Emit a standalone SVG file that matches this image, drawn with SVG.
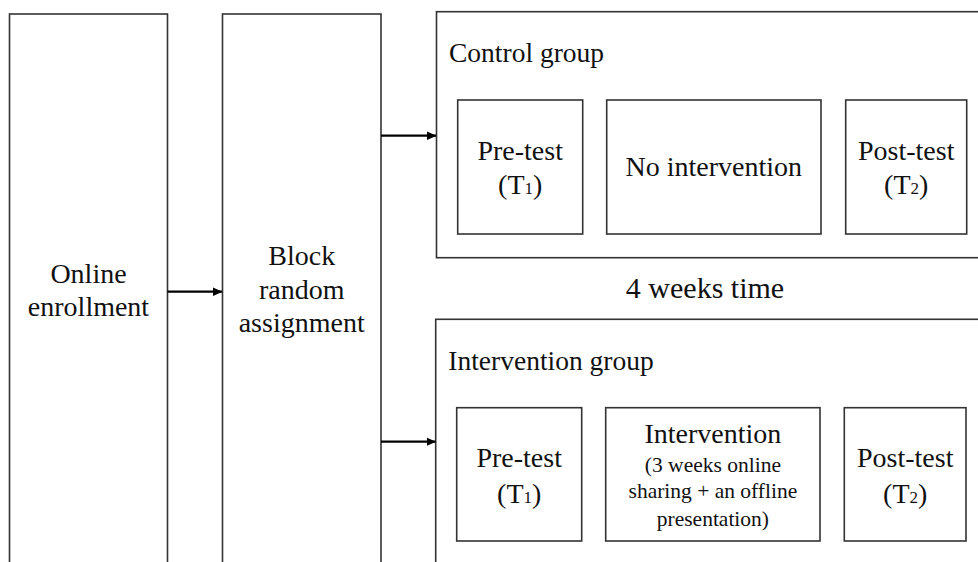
<svg xmlns="http://www.w3.org/2000/svg" width="978" height="562" viewBox="0 0 978 562">
<style>
.box{fill:#fff;stroke:#333;stroke-width:1.6}
.t{font-family:"Liberation Serif","Times New Roman",serif;font-size:28px;fill:#111;text-anchor:middle}
.tl{font-family:"Liberation Serif","Times New Roman",serif;font-size:27.5px;fill:#111}
.s{font-family:"Liberation Serif","Times New Roman",serif;font-size:21.5px;fill:#111;text-anchor:middle}
.sub{font-size:17px}
.c{stroke:#000;stroke-width:2.2;fill:none}
</style>
<defs>
<marker id="ah" markerWidth="10" markerHeight="10" refX="9" refY="5" orient="auto" markerUnits="userSpaceOnUse">
<path d="M0,0.8 L9.5,5 L0,9.2 Z" fill="#000"/>
</marker>
</defs>
<rect width="978" height="562" fill="#fff"/>
<g id="online">
<rect class="box" x="9.5" y="14" width="158" height="600"/>
<text class="t" x="88.5" y="283">Online</text>
<text class="t" x="88.5" y="316">enrollment</text>
</g>
<g id="block">
<rect class="box" x="222.5" y="14" width="158.5" height="600"/>
<text class="t" x="301.7" y="265">Block</text>
<text class="t" x="301.7" y="299">random</text>
<text class="t" x="301.7" y="332">assignment</text>
</g>
<g id="control">
<rect class="box" x="436.5" y="11.7" width="600" height="246"/>
<text class="tl" x="449" y="61.5">Control group</text>
</g>
<g id="c-pre">
<rect class="box" x="457.7" y="100" width="125" height="134"/>
<text class="t" x="520.2" y="160">Pre-test</text>
<text class="t" x="520.2" y="193.5">(T<tspan class="sub">1</tspan>)</text>
</g>
<g id="c-none">
<rect class="box" x="606.7" y="100" width="214.3" height="134"/>
<text class="t" x="713.8" y="175.7">No intervention</text>
</g>
<g id="c-post">
<rect class="box" x="845.7" y="100" width="121" height="134"/>
<text class="t" x="906.2" y="160">Post-test</text>
<text class="t" x="906.2" y="193.5">(T<tspan class="sub">2</tspan>)</text>
</g>
<g id="weeks">
<text class="t" x="705" y="298" style="font-size:30px">4 weeks time</text>
</g>
<g id="intervention">
<rect class="box" x="435.7" y="319.3" width="600" height="300"/>
<text class="tl" x="448.3" y="370">Intervention group</text>
</g>
<g id="i-pre">
<rect class="box" x="456.7" y="407.7" width="125" height="133.3"/>
<text class="t" x="519.2" y="466.7">Pre-test</text>
<text class="t" x="519.2" y="502.5">(T<tspan class="sub">1</tspan>)</text>
</g>
<g id="i-int">
<rect class="box" x="605.7" y="407.7" width="214.3" height="133.3"/>
<text class="t" x="712.9" y="443.3">Intervention</text>
<text class="s" x="712.9" y="471.5">(3 weeks online</text>
<text class="s" x="712.9" y="498">sharing + an offline</text>
<text class="s" x="712.9" y="526">presentation)</text>
</g>
<g id="i-post">
<rect class="box" x="844.3" y="407.7" width="121.7" height="133.3"/>
<text class="t" x="905.2" y="466.7">Post-test</text>
<text class="t" x="905.2" y="502.5">(T<tspan class="sub">2</tspan>)</text>
</g>
<g id="connectors">
<line class="c" x1="167.5" y1="291.7" x2="222" y2="291.7" marker-end="url(#ah)"/>
<line class="c" x1="381" y1="135.7" x2="436" y2="135.7" marker-end="url(#ah)"/>
<line class="c" x1="381" y1="441.7" x2="435.5" y2="441.7" marker-end="url(#ah)"/>
</g>
</svg>
